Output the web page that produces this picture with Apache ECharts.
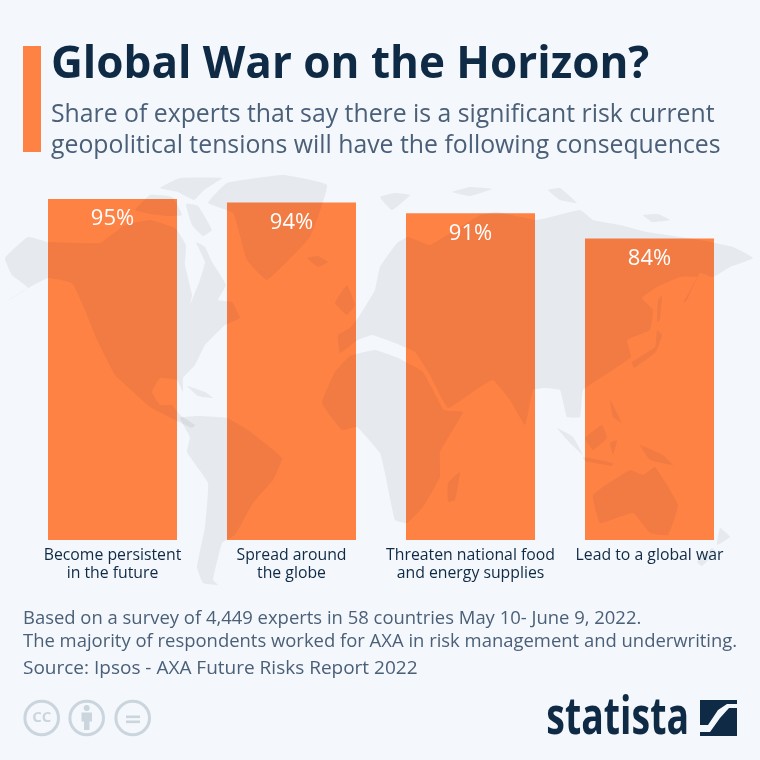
<!DOCTYPE html>
<html>
<head>
<meta charset="utf-8">
<style>
    html, body { margin: 0; padding: 0; background: #f4f7fb; }
    #chart { width: 760px; height: 760px; }
</style>
<script src="https://cdn.jsdelivr.net/npm/echarts@6/dist/echarts.min.js"></script>
</head>
<body>
<div id="chart"></div>
<script type="text/javascript">
var categories = ['Become persistent\nin the future', 'Spread around\nthe globe', 'Threaten national food\nand energy supplies', 'Lead to a global war'];
var shareValues = [95, 94, 91, 84];
var titleText = 'Global War on the Horizon?';
var subtitleText = 'Share of experts that say there is a significant risk current\ngeopolitical tensions will have the following consequences';
var noteText = 'Based on a survey of 4,449 experts in 58 countries May 10- June 9, 2022.\nThe majority of respondents worked for AXA in risk management and underwriting.';
var sourceText = 'Source: Ipsos - AXA Future Risks Report 2022';

var FONT = '"Open Sans", sans-serif';
var ORANGE = '#ff8245';
var NAVY = '#0f2a45';
var SLATE = '#4a5f78';
var MAP_TINT = '#f1f1f2';
var CC_GREY = '#cbd5dd';

// rough world map, multiplied over the background and the bars
var mapShapes = [
    // north america
    [[5,302],[28,288],[12,275],[5,258],[28,237],[48,242],[77,243],[100,243],[125,225],[150,220],[175,228],[186,245],[185,265],[192,295],[190,305],[200,280],[205,262],[196,242],[205,247],[212,262],[226,285],[218,300],[232,302],[240,318],[225,325],[205,345],[195,365],[183,378],[183,392],[177,380],[160,378],[152,392],[160,405],[172,405],[180,415],[195,425],[192,428],[175,420],[150,407],[131,390],[115,375],[97,340],[85,310],[72,283],[48,278],[30,287]],
    // arctic canada, baffin
    [[135,210],[150,195],[172,197],[182,215],[168,216],[150,214]],
    [[160,188],[180,178],[222,178],[204,190],[194,200],[178,192]],
    [[186,204],[198,206],[212,230],[203,236],[192,225]],
    // greenland, iceland
    [[208,203],[227,183],[283,175],[327,185],[310,237],[267,280],[247,260],[233,213]],
    [[307,258],[318,256],[328,262],[318,267]],
    // cuba
    [[187,386],[205,392],[213,398],[198,396]],
    // south america
    [[180,418],[197,416],[227,418],[248,430],[282,458],[273,480],[253,503],[235,535],[222,543],[213,580],[218,585],[203,583],[197,567],[205,527],[208,483],[187,452],[190,437]],
    // africa
    [[322,403],[335,372],[350,356],[375,350],[398,358],[423,372],[444,410],[463,412],[440,452],[440,477],[423,507],[407,523],[395,520],[385,473],[380,453],[357,427],[342,430]],
    // eurasia
    [[340,353],[338,335],[350,328],[360,315],[375,290],[380,267],[397,243],[408,237],[430,245],[480,215],[497,212],[537,220],[580,210],[593,220],[620,225],[647,232],[700,240],[733,247],[753,258],[730,267],[713,277],[700,273],[687,300],[683,303],[697,277],[680,277],[657,287],[642,298],[653,310],[650,330],[627,340],[631,357],[602,377],[583,390],[580,417],[567,417],[560,390],[543,388],[533,390],[525,425],[510,400],[493,380],[480,387],[448,408],[430,375],[415,352],[395,343],[372,335],[358,340]],
    // russian arctic islands, svalbard
    [[452,192],[470,187],[492,189],[470,196]],
    [[548,190],[560,188],[577,203],[560,200]],
    [[643,215],[658,214],[670,220],[652,222]],
    [[380,197],[395,193],[410,195],[392,210]],
    // uk, japan, sakhalin
    [[335,303],[347,285],[355,305],[347,315]],
    [[632,362],[655,347],[657,330],[662,335],[656,352],[634,368]],
    [[658,300],[662,295],[660,320],[657,322]],
    // south east asia
    [[585,438],[602,425],[607,438],[593,450]],
    [[557,428],[573,437],[583,455],[570,443]],
    [[583,457],[613,463],[612,466],[585,461]],
    [[640,445],[663,455],[673,465],[650,460]],
    [[610,400],[622,423],[613,417]],
    [[610,443],[617,440],[613,455]],
    // australia, madagascar, new zealand
    [[593,495],[630,470],[643,475],[655,467],[678,505],[668,535],[650,533],[633,513],[600,523]],
    [[460,472],[455,500],[448,502],[448,483]],
    [[720,528],[730,537],[717,545]],
    [[697,562],[712,548],[716,552],[702,566]]
];

function polygonEl(points, fill, z) {
    return { type: 'polygon', z: z, silent: true, shape: { points: points }, style: { fill: fill } };
}

var elements = [];
mapShapes.forEach(function (shape) {
    var el = polygonEl(shape, MAP_TINT, 3);
    el.shape.smooth = 0.1;
    el.style.blend = 'multiply';
    elements.push(el);
});
// orange accent next to the title
elements.push({ type: 'rect', z: 5, shape: { x: 23, y: 46, width: 18, height: 106 }, style: { fill: ORANGE } });
// cc icons
[41.7, 86.7, 132.7].forEach(function (cx) {
    elements.push({ type: 'circle', z: 5, shape: { cx: cx, cy: 718, r: 16.8 }, style: { fill: 'none', stroke: CC_GREY, lineWidth: 3 } });
});
elements.push({ type: 'text', z: 5, style: { x: 41.7, y: 718, text: 'CC', fill: CC_GREY, font: 'bold 15px ' + FONT, align: 'center', verticalAlign: 'middle' } });
elements.push({ type: 'circle', z: 5, shape: { cx: 86.7, cy: 708, r: 3 }, style: { fill: CC_GREY } });
elements.push({ type: 'rect', z: 5, shape: { x: 81.5, y: 712.5, width: 10.5, height: 9 }, style: { fill: CC_GREY } });
elements.push({ type: 'rect', z: 5, shape: { x: 84, y: 720, width: 5.5, height: 10 }, style: { fill: CC_GREY } });
elements.push({ type: 'rect', z: 5, shape: { x: 126, y: 715.5, width: 14, height: 2.6 }, style: { fill: CC_GREY } });
elements.push({ type: 'rect', z: 5, shape: { x: 126, y: 720.5, width: 14, height: 2.6 }, style: { fill: CC_GREY } });
// statista logo
elements.push({ type: 'text', z: 5, x: 689, y: 719, scaleX: 0.72, style: { x: 0, y: 0, text: 'statista', fill: NAVY, font: 'bold 52px ' + FONT, align: 'right', verticalAlign: 'middle' } });
elements.push(polygonEl([[700,700],[737,700],[737,704],[727,704],[718,710],[708,725],[700,725]], NAVY, 5));
elements.push(polygonEl([[737,708],[729,708],[720,718],[710,732],[700,732],[700,736],[737,736]], NAVY, 5));

var chart = echarts.init(document.getElementById('chart'), null, { renderer: 'canvas' });
var option = {
    backgroundColor: '#f4f7fb',
    animation: false,
    textStyle: { fontFamily: FONT },
    title: [
        { text: titleText, left: 51, top: 43, padding: 0, textStyle: { fontFamily: FONT, fontSize: 44, fontWeight: 'bold', color: NAVY } },
        { text: subtitleText, left: 51, top: 99, padding: 0, textStyle: { fontFamily: FONT, fontSize: 24.8, fontWeight: 'normal', color: SLATE, lineHeight: 31 } },
        { text: noteText, left: 23, top: 607, padding: 0, textStyle: { fontFamily: FONT, fontSize: 18.45, fontWeight: 'normal', color: SLATE, lineHeight: 23 } },
        { text: sourceText, left: 23, top: 659, padding: 0, textStyle: { fontFamily: FONT, fontSize: 19, fontWeight: 'normal', color: SLATE } }
    ],
    grid: { left: 23, right: 21, top: 181, bottom: 220, containLabel: false },
    xAxis: {
        type: 'category',
        data: categories,
        axisLine: { show: false },
        axisTick: { show: false },
        axisLabel: { interval: 0, color: NAVY, fontFamily: FONT, fontSize: 15.8, lineHeight: 18, margin: 6, verticalAlign: 'top' }
    },
    yAxis: { type: 'value', min: 0, max: 100, show: false, splitLine: { show: false } },
    series: [{
        type: 'bar',
        data: shareValues,
        barWidth: 129,
        z: 2,
        itemStyle: { color: ORANGE }
    }, {
        // same values again, only to keep the labels above the map tint
        type: 'bar',
        data: shareValues,
        barWidth: 129,
        barGap: '-100%',
        z: 10,
        itemStyle: { color: 'transparent' },
        label: {
            show: true,
            position: 'insideTop',
            distance: 9,
            color: '#ffffff',
            fontFamily: FONT,
            fontSize: 22,
            formatter: '{c}%'
        }
    }],
    graphic: { elements: elements }
};
chart.setOption(option);
</script>
</body>
</html>
